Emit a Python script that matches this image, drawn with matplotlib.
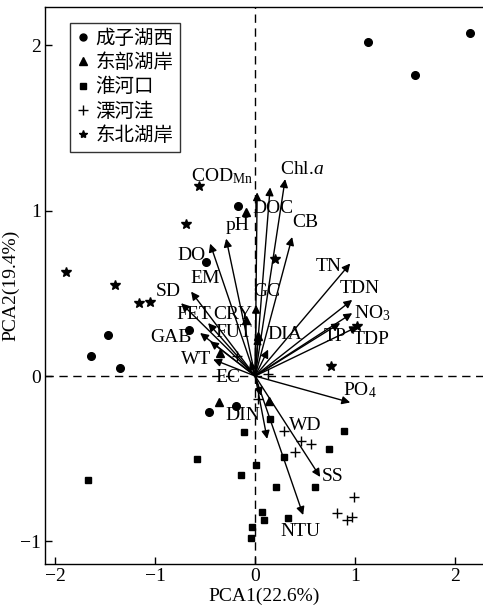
import matplotlib
matplotlib.use("Agg")
import matplotlib.pyplot as plt
from matplotlib.lines import Line2D

plt.rcParams['font.family'] = ['Liberation Serif', 'Noto Sans CJK SC']
plt.rcParams['mathtext.fontset'] = 'custom'
plt.rcParams['mathtext.rm'] = 'Liberation Serif'
plt.rcParams['mathtext.it'] = 'Liberation Serif:italic'

# ---- sample scores ----
circle_x = [1.13, 2.15, 1.60, -0.17, -0.49, -0.66, -1.47, -1.64, -1.35, -0.46, -0.19]
circle_y = [2.02, 2.07, 1.82, 1.03, 0.69, 0.28, 0.25, 0.12, 0.05, -0.22, -0.18]
tri_x = [-0.09, -0.09, -0.36, 0.14, -0.35, 0.03]
tri_y = [0.99, 0.34, -0.16, -0.15, 0.14, 0.24]
sq_x = [0.15, -0.11, 0.89, 0.74, -0.58, 0.29, 0.01, -0.14, 0.21, 0.60, 0.07, 0.09, 0.33, -0.03, -0.04, -1.67]
sq_y = [-0.26, -0.34, -0.33, -0.44, -0.50, -0.49, -0.54, -0.60, -0.67, -0.67, -0.82, -0.87, -0.86, -0.91, -0.98, -0.63]
plus_x = [0.29, 0.46, 0.56, 0.40, 0.99, 0.82, 0.92, 0.97, 0.13, 0.03, -0.18]
plus_y = [-0.33, -0.39, -0.41, -0.46, -0.73, -0.83, -0.87, -0.85, 0.01, -0.14, 0.12]
star_x = [-1.89, -1.40, -1.16, -1.05, -0.56, -0.69, 0.20, 0.76, 1.02]
star_y = [0.63, 0.55, 0.44, 0.45, 1.15, 0.92, 0.71, 0.06, 0.30]

groups = ['成子湖西', '东部湖岸', '淮河口', '溧河洼', '东北湖岸']

# ---- environmental variable loadings (arrow tips) ----
var_names = ['COD_Mn', 'DOC', 'Chl.a', 'CB', 'pH', 'DO', 'GC', 'DIA', 'CRY',
             'SD', 'FET', 'EM', 'GAB', 'FUT', 'WT', 'EC',
             'TN', 'TDN', 'NO3', 'TP', 'TDP', 'PO4',
             'DIN', 'NTU', 'SS', 'WD']
var_x = [0.02, 0.15, 0.30, 0.37, -0.29, -0.45, 0.01, 0.13, 0.03,
         -0.64, -0.74, -0.47, -0.55, -0.45, -0.42, -0.05,
         0.95, 0.97, 0.97, 0.85, 1.03, 0.95,
         0.12, 0.48, 0.65, 0.06]
var_y = [1.11, 1.14, 1.19, 0.84, 0.83, 0.80, 0.43, 0.16, 0.24,
         0.51, 0.44, 0.32, 0.26, 0.21, 0.10, 0.09,
         0.68, 0.46, 0.38, 0.32, 0.30, -0.16,
         -0.38, -0.84, -0.61, -0.12]

# label texts and positions
lab_text = [r'COD$_{\rm Mn}$', r'Chl.$\it{a}$', 'DOC', 'pH', 'CB', 'DO', 'EM', 'SD', 'GC',
            'TN', 'TDN', r'NO$_3$', 'FET', 'CRY', 'FUT', 'GAB', 'DIA', 'TP', 'TDP',
            'WT', 'EC', r'PO$_4$', 'DIN', 'WD', 'SS', 'NTU']
lab_x = [-0.33, 0.47, 0.18, -0.18, 0.50, -0.64, -0.50, -0.87, 0.12,
         0.73, 1.05, 1.17, -0.61, -0.22, -0.21, -0.84, 0.30, 0.80, 1.16,
         -0.59, -0.27, 1.05, -0.12, 0.50, 0.77, 0.45]
lab_y = [1.21, 1.245, 1.015, 0.91, 0.93, 0.73, 0.59, 0.51, 0.51,
         0.66, 0.53, 0.38, 0.37, 0.37, 0.26, 0.23, 0.25, 0.24, 0.22,
         0.10, -0.01, -0.085, -0.24, -0.30, -0.61, -0.94]

fig = plt.figure(figsize=(4.83, 6.10), dpi=100)
ax = fig.add_axes([45/483, 1-564/610, 1-45/483, (564-7)/610])
ax.set_xlim(-2.1, 2.277)
ax.set_ylim(-1.136, 2.23)

ax.axhline(0, color='black', lw=1.0, ls=(0, (6, 4)), zorder=1)
ax.axvline(0, color='black', lw=1.0, ls=(0, (6, 4)), zorder=1)

for vx, vy in zip(var_x, var_y):
    ax.annotate('', xy=(vx, vy), xytext=(0, 0),
                arrowprops=dict(arrowstyle='-|>', lw=1.0, color='black',
                                mutation_scale=12, shrinkA=0, shrinkB=0),
                zorder=3)

ms = dict(color='black', linestyle='none', zorder=4)
ax.plot(circle_x, circle_y, marker='o', markersize=5.5, **ms)
ax.plot(tri_x, tri_y, marker='^', markersize=6, **ms)
ax.plot(sq_x, sq_y, marker='s', markersize=5, **ms)
ax.plot(plus_x, plus_y, marker='+', markersize=7, markeredgewidth=1.0, **ms)
ax.plot(star_x, star_y, marker='*', markersize=7, **ms)

for t, lx, ly in zip(lab_text, lab_x, lab_y):
    ax.text(lx, ly, t, fontsize=14, ha='center', va='center', zorder=5)

handles = [Line2D([], [], marker='o', markersize=5, color='black', ls='none'),
           Line2D([], [], marker='^', markersize=5.5, color='black', ls='none'),
           Line2D([], [], marker='s', markersize=4.5, color='black', ls='none'),
           Line2D([], [], marker='+', markersize=6.5, color='black', ls='none'),
           Line2D([], [], marker='*', markersize=6, color='black', ls='none')]
leg = ax.legend(handles, groups, loc='upper left', bbox_to_anchor=(0.057, 0.972),
                frameon=True, fancybox=False, edgecolor='black', fontsize=14,
                handlelength=0.6, handletextpad=0.35, borderpad=0.35,
                labelspacing=0.3, borderaxespad=0)
leg.get_frame().set_linewidth(1.0)

ax.spines['right'].set_visible(False)
for s in ['left', 'bottom', 'top']:
    ax.spines[s].set_linewidth(1.0)
ax.set_xticks([-2, -1, 0, 1, 2])
ax.set_yticks([-1, 0, 1, 2])
ax.set_xticklabels(['\u22122', '\u22121', '0', '1', '2'])
ax.set_yticklabels(['\u22121', '0', '1', '2'])
ax.tick_params(direction='in', length=5, width=1, labelsize=14, top=False, right=False,
               pad=3)
ax.set_xlabel('PCA1(22.6%)', fontsize=14, labelpad=2)
ax.set_ylabel('PCA2(19.4%)', fontsize=14)
ax.yaxis.set_label_coords(-0.058, 0.5)

fig.savefig('out.png', dpi=100)
